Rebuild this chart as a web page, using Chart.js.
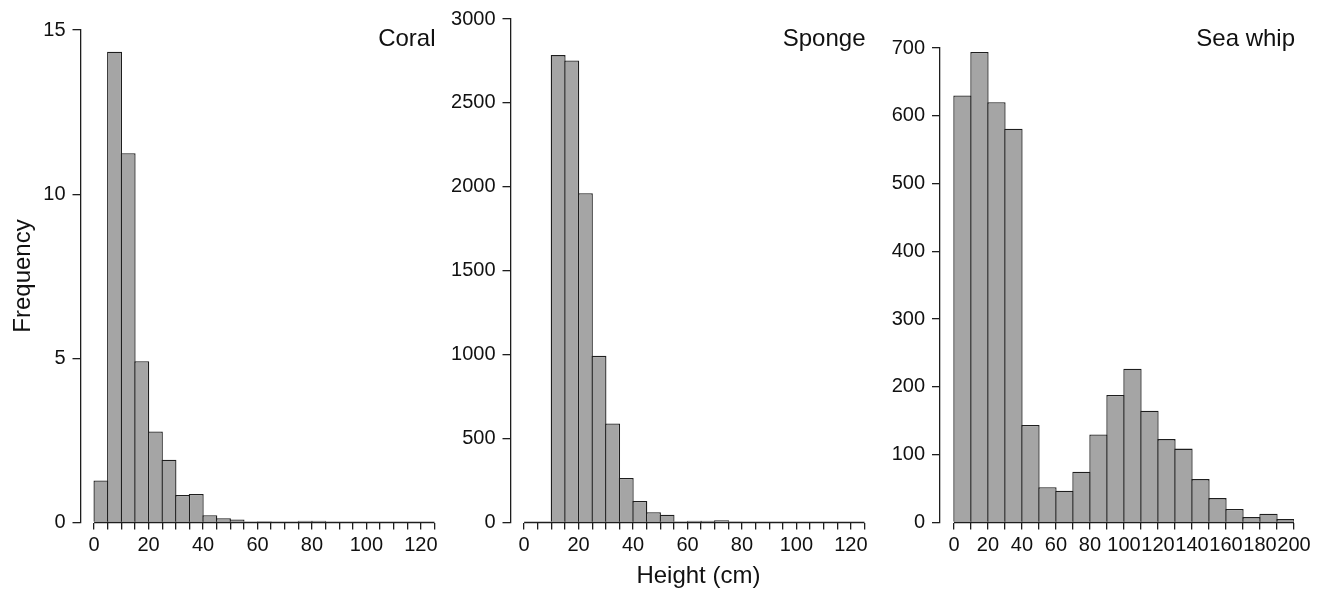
<!DOCTYPE html>
<html>
<head>
<meta charset="utf-8">
<script src="https://cdn.jsdelivr.net/npm/chart.js@4.4.1/dist/chart.umd.min.js"></script>
<style>
  html, body { margin: 0; padding: 0; background: #fff; }
  #wrap { position: relative; width: 1327px; height: 593px; }
  #wrap canvas { position: absolute; left: 0; top: 0; }
</style>
</head>
<body>
<div id="wrap">
  <canvas id="coral" width="1327" height="593"></canvas>
  <canvas id="sponge" width="1327" height="593"></canvas>
  <canvas id="seawhip" width="1327" height="593"></canvas>
</div>
<script>
// bin starts (cm) and frequencies
const coralBins = [0, 5, 10, 15, 20, 25, 30, 35, 40, 45, 50, 55, 60, 65, 70, 75, 80, 85, 90, 95, 100, 105, 110, 115, 120];
const coralFreq = [1.28, 14.34, 11.25, 4.91, 2.77, 1.91, 0.84, 0.87, 0.22, 0.13, 0.09, 0, 0.04, 0, 0.02, 0.05, 0.05, 0, 0.02, 0, 0.02, 0, 0, 0.02, 0];

const spongeBins = [0, 5, 10, 15, 20, 25, 30, 35, 40, 45, 50, 55, 60, 65, 70, 75, 80, 85, 90, 95, 100, 105, 110, 115, 120];
const spongeFreq = [0, 0, 2785, 2753, 1962, 993, 590, 265, 128, 61, 46, 2, 10, 10, 14, 6, 0, 0, 0, 0, 0, 0, 0, 0, 0];

const seaWhipBins = [0, 10, 20, 30, 40, 50, 60, 70, 80, 90, 100, 110, 120, 130, 140, 150, 160, 170, 180, 190];
const seaWhipFreq = [630, 694, 620, 581, 144, 52, 47, 75, 130, 188, 227, 165, 123, 109, 64, 36, 20, 8, 13, 5];

// ticks
const shortXTicks = [0, 5, 10, 15, 20, 25, 30, 35, 40, 45, 50, 55, 60, 65, 70, 75, 80, 85, 90, 95, 100, 105, 110, 115, 120, 125];
const shortXLabels = [0, 20, 40, 60, 80, 100, 120];
const longXTicks = [0, 10, 20, 30, 40, 50, 60, 70, 80, 90, 100, 110, 120, 130, 140, 150, 160, 170, 180, 190, 200];
const longXLabels = [0, 20, 40, 60, 80, 100, 120, 140, 160, 180, 200];
const coralYTicks = [0, 5, 10, 15];
const spongeYTicks = [0, 500, 1000, 1500, 2000, 2500, 3000];
const seaWhipYTicks = [0, 100, 200, 300, 400, 500, 600, 700];

const W = 1327, H = 593;
const Y_W = 70, X_H = 30;
const BORDER = 1.3;
const axisColor = '#1e1e1e';
const barFill = '#a5a5a5';
const FONT = '"Liberation Sans", Arial, Helvetica, sans-serif';

const panelDecor = {
    id: 'panelDecor',
    afterDatasetsDraw(chart, args, opts) {
        const ctx = chart.ctx;
        const x = chart.scales.x, y = chart.scales.y;
        ctx.save();
        // R-style x axis: only from first to last break
        ctx.strokeStyle = axisColor;
        ctx.lineWidth = BORDER;
        ctx.beginPath();
        ctx.moveTo(x.getPixelForValue(opts.axisFrom), y.getPixelForValue(0));
        ctx.lineTo(x.getPixelForValue(opts.axisTo), y.getPixelForValue(0));
        ctx.stroke();

        ctx.fillStyle = '#111';
        ctx.font = '24px ' + FONT;
        ctx.textAlign = 'right';
        ctx.textBaseline = 'alphabetic';
        ctx.fillText(opts.name, chart.chartArea.right + 1, 46);

        if (opts.xTitle) {
            ctx.textAlign = 'center';
            ctx.fillText(opts.xTitle, x.getPixelForValue(opts.xTitleAt), 583);
        }
        if (opts.yTitle) {
            ctx.translate(23, 276);
            ctx.rotate(-Math.PI / 2);
            ctx.textAlign = 'center';
            ctx.textBaseline = 'middle';
            ctx.fillText(opts.yTitle, 0, 0);
        }
        ctx.restore();
    }
};

function makePanel(id, bins, freq, binWidth, xTicks, xLabels, yTicks, area, extra) {
    const binPx = (area.right - area.left) / (area.xMax - area.xMin) * binWidth;
    const points = bins.map((b, i) => ({ x: b + binWidth / 2, y: freq[i] }));
    return new Chart(document.getElementById(id), {
        type: 'bar',
        data: {
            datasets: [{
                data: points,
                backgroundColor: barFill,
                borderColor: axisColor,
                borderWidth: BORDER,
                borderSkipped: 'start',
                barPercentage: 1 + BORDER / binPx,
                categoryPercentage: 1
            }]
        },
        options: {
            responsive: false,
            animation: false,
            layout: {
                padding: {
                    left: area.left - Y_W,
                    right: W - area.right,
                    top: area.top,
                    bottom: H - area.bottom - X_H
                }
            },
            plugins: {
                legend: { display: false },
                tooltip: { enabled: false },
                panelDecor: Object.assign({ axisFrom: xTicks[0], axisTo: xTicks[xTicks.length - 1] }, extra)
            },
            scales: {
                x: {
                    type: 'linear',
                    min: area.xMin,
                    max: area.xMax,
                    offset: false,
                    afterBuildTicks: (s) => { s.ticks = xTicks.map(v => ({ value: v })); },
                    afterFit: (s) => { s.height = X_H; },
                    border: { display: false },
                    grid: { offset: false, drawOnChartArea: false, drawTicks: true, tickLength: 7, color: axisColor, lineWidth: BORDER },
                    ticks: {
                        autoSkip: false, maxRotation: 0, padding: 4,
                        color: '#111', font: { family: FONT, size: 20 },
                        callback: (v) => xLabels.includes(v) ? String(v) : ''
                    }
                },
                y: {
                    min: 0,
                    max: yTicks[yTicks.length - 1],
                    afterBuildTicks: (s) => { s.ticks = yTicks.map(v => ({ value: v })); },
                    afterFit: (s) => { s.width = Y_W; },
                    border: { display: true, color: axisColor, width: BORDER },
                    grid: { drawOnChartArea: false, drawTicks: true, tickLength: 8, color: axisColor, lineWidth: BORDER },
                    ticks: {
                        padding: 7, color: '#111', font: { family: FONT, size: 20 },
                        callback: (v) => String(v)
                    }
                }
            }
        },
        plugins: [panelDecor]
    });
}

makePanel('coral', coralBins, coralFreq, 5, shortXTicks, shortXLabels, coralYTicks,
    { left: 80.5, right: 434.5, top: 30, bottom: 522.5, xMin: -5, xMax: 125 },
    { name: 'Coral', yTitle: 'Frequency' });

makePanel('sponge', spongeBins, spongeFreq, 5, shortXTicks, shortXLabels, spongeYTicks,
    { left: 510.5, right: 864.5, top: 16, bottom: 522.5, xMin: -5, xMax: 125 },
    { name: 'Sponge', xTitle: 'Height (cm)', xTitleAt: 64 });

makePanel('seawhip', seaWhipBins, seaWhipFreq, 10, longXTicks, longXLabels, seaWhipYTicks,
    { left: 940, right: 1294, top: 48, bottom: 522.5, xMin: -8.2, xMax: 200 },
    { name: 'Sea whip' });
</script>
</body>
</html>
